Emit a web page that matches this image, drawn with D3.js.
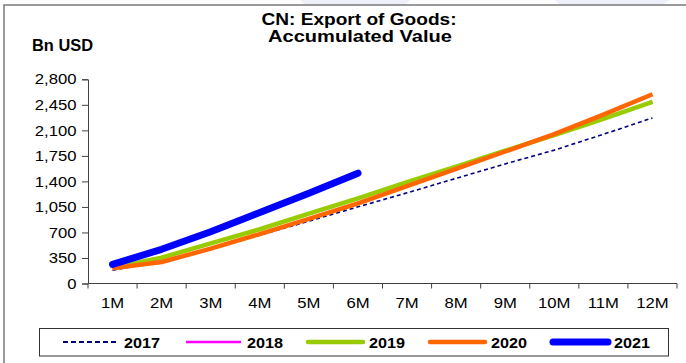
<!DOCTYPE html>
<html>
<head>
<meta charset="utf-8">
<script src="https://cdn.jsdelivr.net/npm/d3@7"></script>
<style>
  html, body { margin: 0; padding: 0; background: #fff; }
  svg { display: block; font-family: "Liberation Sans", Arial, sans-serif; }
</style>
</head>
<body>
<svg id="chart" width="686" height="363"></svg>
<script>
// Cumulative export of goods, billion USD, by month of year
const months = ["1M","2M","3M","4M","5M","6M","7M","8M","9M","10M","11M","12M"];
const yTicks = [0, 350, 700, 1050, 1400, 1750, 2100, 2450, 2800];

const v2017 = [182, 302, 482, 663, 855, 1051, 1243, 1442, 1640, 1829, 2046, 2270];
const v2018 = [218, 352, 551, 744, 958, 1168, 1389, 1603, 1822, 2035, 2257, 2490];
const v2019 = [218, 355, 551, 744, 958, 1168, 1389, 1603, 1822, 2035, 2257, 2490];
const v2020 = [210, 295, 478, 678, 885, 1099, 1336, 1571, 1810, 2047, 2315, 2595];
const v2021 = [262, 469, 710, 974, 1237, 1513];

const seriesNames = ["2017", "2018", "2019", "2020", "2021"];
const seriesValues = [v2017, v2018, v2019, v2020, v2021];

const styles = {
  "2017": { color: "#000080", width: 1.6, dash: "4,3", legendWidth: 2, legendDash: "5,3" },
  "2018": { color: "#FF00FF", width: 2, dash: null, legendWidth: 2.5, legendDash: null },
  "2019": { color: "#99CC00", width: 4.5, dash: null, legendWidth: 4.5, legendDash: null },
  "2020": { color: "#FF6600", width: 4.5, dash: null, legendWidth: 4.5, legendDash: null },
  "2021": { color: "#0000FF", width: 7, dash: null, legendWidth: 7, legendDash: null }
};

const svg = d3.select("#chart");
const sx = 1.15; // horizontal text stretch

// faint background shapes along the top edge
svg.append("path").attr("d", "M300,0 L410,0 L405,5 L305,5 Z").attr("fill", "#eef0f9");
svg.append("path").attr("d", "M555,0 L670,0 L662,5 L560,5 Z").attr("fill", "#eef0f9");

// outer frame
svg.append("rect")
  .attr("x", 4).attr("y", 5).attr("width", 720).attr("height", 400)
  .attr("fill", "none").attr("stroke", "#7a7a7a").attr("stroke-width", 1.5);

// titles
svg.append("text").attr("x", 359).attr("y", 25)
  .attr("text-anchor", "middle").attr("font-weight", "bold").attr("font-size", 16.5)
  .attr("textLength", 195).attr("lengthAdjust", "spacingAndGlyphs")
  .text("CN: Export of Goods:");
svg.append("text").attr("x", 360).attr("y", 42)
  .attr("text-anchor", "middle").attr("font-weight", "bold").attr("font-size", 16.5)
  .attr("textLength", 184).attr("lengthAdjust", "spacingAndGlyphs")
  .text("Accumulated Value");
svg.append("text").attr("x", 32).attr("y", 51)
  .attr("font-weight", "bold").attr("font-size", 16)
  .attr("textLength", 61).attr("lengthAdjust", "spacingAndGlyphs")
  .text("Bn USD");

// scales
const x = d3.scaleBand().domain(months).range([88, 677]);
const y = d3.scaleLinear().domain([0, 2800]).range([283.5, 79.3]);

// y axis
const yAxis = svg.append("g").attr("transform", "translate(88,0)")
  .call(d3.axisLeft(y).tickValues(yTicks).tickSize(6).tickPadding(4)
    .tickFormat(d3.format(",")));
yAxis.selectAll("path, line").attr("stroke", "#404040").attr("stroke-width", 1);
yAxis.selectAll("text")
  .attr("font-size", 14.5).attr("fill", "#000")
  .attr("font-family", "Liberation Sans, Arial, sans-serif")
  .each(function () {
    const t = d3.select(this);
    t.attr("transform", `translate(-16,0) scale(${sx},1) translate(${16 / sx},0)`);
  });

// x axis: ticks on band edges, labels at band centres
const xAxis = svg.append("g").attr("transform", "translate(0,283.5)");
xAxis.append("line").attr("x1", 88).attr("x2", 677).attr("stroke", "#404040");
const edges = months.map(m => x(m)).concat([x.range()[1]]);
xAxis.selectAll("line.tick").data(edges).join("line")
  .attr("class", "tick")
  .attr("x1", d => d).attr("x2", d => d).attr("y1", 0).attr("y2", 5)
  .attr("stroke", "#404040");
xAxis.selectAll("text").data(months).join("text")
  .attr("transform", d => `translate(${x(d) + x.bandwidth() / 2},24) scale(${sx},1)`)
  .attr("text-anchor", "middle").attr("font-size", 14.5).attr("fill", "#000")
  .text(d => d);

// series lines
const line = d3.line()
  .x((d, i) => x(months[i]) + x.bandwidth() / 2)
  .y(d => y(d));

seriesNames.forEach((name, k) => {
  const st = styles[name];
  svg.append("path")
    .datum(seriesValues[k])
    .attr("d", line)
    .attr("fill", "none")
    .attr("stroke", st.color)
    .attr("stroke-width", st.width)
    .attr("stroke-linejoin", "round")
    .attr("stroke-linecap", name === "2021" ? "round" : "butt")
    .attr("stroke-dasharray", st.dash);
});

// legend
const legend = svg.append("g");
legend.append("rect")
  .attr("x", 39.5).attr("y", 328.5).attr("width", 629).attr("height", 27.5)
  .attr("fill", "#fff").attr("stroke", "#333").attr("stroke-width", 1);
const legendX = [63, 186, 308, 430, 553];
seriesNames.forEach((name, k) => {
  const st = styles[name];
  const lx = legendX[k];
  legend.append("line")
    .attr("x1", lx).attr("x2", lx + 55).attr("y1", 342).attr("y2", 342)
    .attr("stroke", st.color).attr("stroke-width", st.legendWidth)
    .attr("stroke-linecap", name === "2017" || name === "2018" ? "butt" : "round")
    .attr("stroke-dasharray", st.legendDash);
  legend.append("text")
    .attr("x", lx + 61).attr("y", 347.5)
    .attr("font-weight", "bold").attr("font-size", 15)
    .attr("textLength", 36).attr("lengthAdjust", "spacingAndGlyphs")
    .text(name);
});
</script>
</body>
</html>
